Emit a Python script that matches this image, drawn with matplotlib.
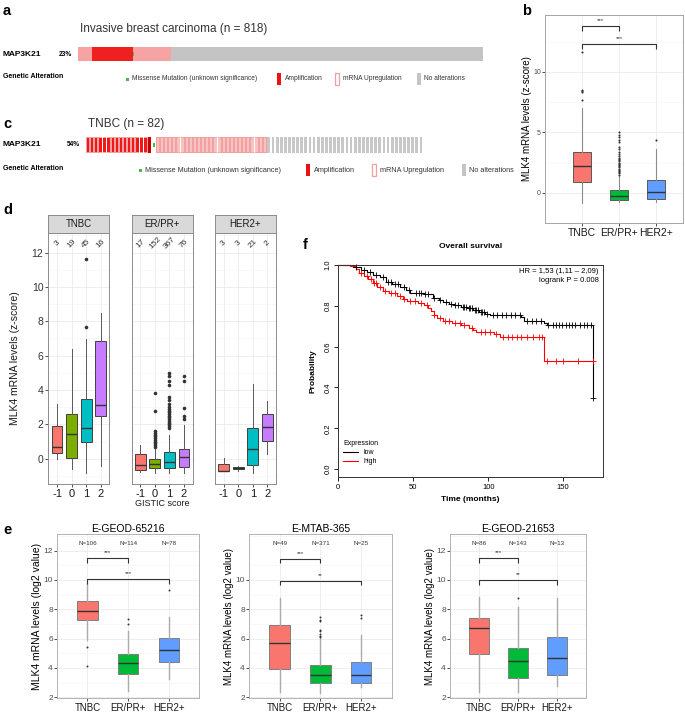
#!/usr/bin/env python3
"""
MLK4 / MAP3K21 multi-panel figure (a-f)
"""
import numpy as np
import matplotlib
matplotlib.use('Agg')
import matplotlib.pyplot as plt
from matplotlib.patches import Rectangle

plt.rcParams['font.family'] = ['Liberation Sans', 'DejaVu Sans']

# ---------------- data ----------------
# oncoprints (samples per alteration group, in display order)
A_TYPES = ['mrna', 'amp', 'mis', 'mrna', 'none']
A_COUNTS = [28, 83, 1, 76, 630]
C_TYPES = ['amp_mrna', 'amp', 'mis', 'mrna', 'none']
C_COUNTS = [15, 1, 1, 27, 38]
ALT_LABELS = ['Missense Mutation (unknown significance)', 'Amplification',
              'mRNA Upregulation', 'No alterations']

SUBTYPES = ['TNBC', 'ER/PR+', 'HER2+']
SUB_COLORS = ['#F8766D', '#00BA38', '#619CFF']

# b: TCGA z-scores by subtype
B_Q1 = [0.92, -0.57, -0.55]
B_MED = [2.18, -0.29, 0.05]
B_Q3 = [3.36, 0.24, 1.08]
B_LO = [-0.84, -0.80, -0.80]
B_HI = [6.98, 1.47, 3.62]
B_OUT = [[7.7, 8.3, 8.4, 8.5, 11.6],
         [1.5, 1.6, 1.7, 1.8, 1.9, 2.0, 2.1, 2.2, 2.3, 2.4, 2.5, 2.6, 2.7,
          2.8, 2.9, 3.0, 3.2, 3.4, 3.6, 3.8, 4.2, 4.4, 4.6, 4.8, 5.0],
         [4.35]]
B_SIG_PAIRS = [(1, 2), (1, 3)]
B_SIG_Y = [13.8, 12.3]
B_SIG_TXT = ['***', '***']

# d: z-scores by GISTIC score within subtype
D_SCORES = ['-1', '0', '1', '2']
D_COLORS = ['#F8766D', '#7CAE00', '#00BFC4', '#C77CFF']
D_N = [[3, 19, 45, 16], [17, 152, 367, 76], [3, 3, 21, 2]]
D_Q1 = [[0.31, 0.02, 0.95, 2.50], [-0.66, -0.52, -0.52, -0.47], [-0.72, -0.62, -0.37, 1.05]]
D_MED = [[0.68, 1.42, 1.77, 3.13], [-0.37, -0.30, -0.17, 0.12], [-0.70, -0.55, 0.56, 1.84]]
D_Q3 = [[1.92, 2.58, 3.46, 6.87], [0.25, 0.00, 0.37, 0.55], [-0.33, -0.47, 1.78, 2.60]]
D_LO = [[0.00, -0.62, -0.82, -0.43], [-0.76, -0.85, -0.85, -0.85], [-0.72, -0.70, -0.82, 0.30]]
D_HI = [[3.18, 6.39, 6.97, 8.47], [0.80, 0.60, 1.40, 1.95], [0.03, -0.42, 4.35, 3.35]]
D_OUT = [[[], [], [7.69, 11.61], []],
         [[], [0.7, 0.8, 0.9, 1.0, 1.1, 1.2, 1.3, 1.4, 1.5, 1.6, 2.8, 3.8],
          [1.8, 1.9, 2.0, 2.1, 2.2, 2.3, 2.4, 2.5, 2.6, 2.7, 2.8, 2.9, 3.0,
           3.2, 3.4, 3.6, 4.3, 4.5, 4.8, 5.0],
          [2.3, 2.5, 2.95, 4.5, 4.8]],
         [[], [], [], []]]

# e: external datasets (log2 values)
E_TITLES = ['E-GEOD-65216', 'E-MTAB-365', 'E-GEOD-21653']
E_N = [[106, 114, 78], [49, 371, 25], [86, 143, 13]]
E_Q1 = [[7.30, 3.60, 4.40], [3.93, 3.00, 2.95], [4.93, 3.34, 3.55]]
E_MED = [[7.90, 4.35, 5.25], [5.73, 3.52, 3.52], [6.73, 4.48, 4.68]]
E_Q3 = [[8.57, 4.95, 6.05], [6.91, 4.18, 4.41], [7.39, 5.34, 6.14]]
E_LO = [[5.90, 2.40, 3.25], [2.39, 2.27, 2.73], [2.39, 2.39, 2.77]]
E_HI = [[9.80, 6.50, 7.45], [8.75, 6.02, 6.25], [8.86, 8.18, 8.80]]
E_OUT = [[[5.4, 4.1], [7.0, 7.35], [9.3]],
         [[], [6.1, 6.2, 6.3, 6.5, 6.6, 7.2, 7.3, 7.45], [7.4, 7.6]],
         [[], [8.75], []]]
E_SIG_Y = [[11.5, 10.05], [11.45, 9.95], [11.48, 10.0]]
E_SIG_TXT = [['***', '***'], ['***', '**'], ['***', '**']]
E_YTICKS = [[2, 4, 6, 8, 10, 12], [2, 4, 6, 8, 10], [2, 4, 6, 8, 10, 12]]

# f: Kaplan-Meier overall survival
KM_LOW_T = [0, 10, 15, 19, 23, 28, 32, 36, 41, 45, 48, 57, 63, 67, 70, 74, 77,
            82, 86, 90, 94, 98, 101, 122, 124, 137, 139, 169.5]
KM_LOW_S = [1.0, 0.99, 0.975, 0.965, 0.95, 0.94, 0.916, 0.905, 0.892, 0.878,
            0.864, 0.856, 0.84, 0.83, 0.819, 0.81, 0.803, 0.795, 0.787, 0.778,
            0.77, 0.762, 0.754, 0.746, 0.725, 0.714, 0.706, 0.35]
KM_HIGH_T = [0, 8, 12, 14, 17, 20, 23, 26, 30, 34, 39, 43, 46, 53, 57, 60, 62,
             64, 66, 70, 76, 82, 87, 90, 92, 104, 108, 137, 170]
KM_HIGH_S = [1.0, 0.995, 0.98, 0.96, 0.945, 0.93, 0.91, 0.89, 0.875, 0.862,
             0.85, 0.835, 0.825, 0.815, 0.803, 0.79, 0.775, 0.755, 0.738, 0.725,
             0.715, 0.705, 0.69, 0.68, 0.67, 0.66, 0.645, 0.53, 0.53]
KM_LOW_CENS = [12, 17, 21, 25, 30, 33, 35, 38, 40, 44, 47, 52, 54, 55, 58, 60,
               64, 68, 72, 75, 78, 80, 83, 84, 85, 87, 88, 89, 91, 92, 93, 95,
               96, 97, 99, 103, 106, 109, 112, 115, 118, 121, 126, 129, 132,
               135, 140, 143, 145, 147, 149, 152, 154, 156, 158, 161, 164, 166,
               168.5, 169.5]
KM_HIGH_CENS = [15, 19, 22, 24, 25, 28, 31, 35, 38, 41, 44, 48, 51, 55, 59, 64,
                68, 71, 74, 78, 81, 84, 89, 95, 98, 101, 105, 110, 113, 116,
                119, 122, 126, 130, 134, 136, 139, 145, 150, 160, 170]

# ---------------- figure ----------------
W, H = 685, 712
fig = plt.figure(figsize=(W / 100, H / 100), dpi=100)


def px_axes(x0, y0, x1, y1):
    return fig.add_axes([x0 / W, 1 - y1 / H, (x1 - x0) / W, (y1 - y0) / H])


def draw_boxes(ax, q1, med, q3, lo, hi, out, colors, pos, width,
               edge='#595959', whisk='#8C8C8C', fs=1.6, wlw=0.8):
    stats = [dict(q1=a, med=m, q3=b, whislo=l, whishi=h, fliers=f)
             for a, m, b, l, h, f in zip(q1, med, q3, lo, hi, out)]
    bp = ax.bxp(stats, positions=pos, widths=width, patch_artist=True,
                showcaps=False,
                boxprops=dict(edgecolor=edge, linewidth=0.7),
                medianprops=dict(color='#333333', linewidth=1.0),
                whiskerprops=dict(color=whisk, linewidth=wlw),
                flierprops=dict(marker='o', markersize=fs,
                                markerfacecolor='#333333',
                                markeredgecolor='none'))
    for patch, c in zip(bp['boxes'], colors):
        patch.set_facecolor(c)
    return bp


def gg_style(ax, border='#A6A6A6'):
    ax.set_facecolor('white')
    for s in ax.spines.values():
        s.set_color(border)
        s.set_linewidth(0.7)
    ax.grid(True, which='major', color='#EBEBEB', lw=0.6)
    ax.grid(True, which='minor', axis='y', color='#F4F4F4', lw=0.4)
    ax.set_axisbelow(True)
    ax.tick_params(which='minor', length=0)
    ax.tick_params(which='major', length=2, width=0.6, color='#333333')


def brackets(ax, pairs, ys, txts, drop, fsize):
    for (i, j), y, t in zip(pairs, ys, txts):
        ax.plot([i, i, j, j], [y - drop, y, y, y - drop], color='#333333',
                lw=0.8, solid_capstyle='butt')
        ax.text((i + j) / 2, y + drop * 0.6, t, ha='center', va='bottom',
                fontsize=fsize, color='#333333')


# ---- a / c oncoprints ----
def oncoprint(ax, types, counts, fine):
    seq = np.repeat(types, counts)
    x = np.arange(len(seq))
    if fine:
        cmap = {'mrna': '#F6A3A3', 'amp': '#EE2020', 'mis': '#4DB848',
                'none': '#C4C4C4'}
        ax.bar(x, 1, width=1.0, color=[cmap[t] for t in seq], linewidth=0)
        mis = x[seq == 'mis']
        ax.bar(mis, 0.3, bottom=0.35, width=1.6, color='#4DB848', linewidth=0)
    else:
        for t in np.unique(seq):
            xs = x[seq == t]
            if t in ('amp_mrna', 'mrna'):
                ax.bar(xs, 1, width=0.96, color='#F2A0A0', linewidth=0)
                inner = '#F01818' if t == 'amp_mrna' else '#F6C2C2'
                ax.bar(xs, 0.84, bottom=0.08, width=0.55, color=inner, linewidth=0)
            elif t == 'amp':
                ax.bar(xs, 1, width=0.7, color='#C80000', linewidth=0)
            elif t == 'mis':
                ax.bar(xs, 0.3, bottom=0.35, width=0.55, color='#4DB848', linewidth=0)
            else:
                ax.bar(xs, 1, width=0.68, color='#C8C8C8', linewidth=0)
    ax.set_xlim(-0.5, len(seq) - 0.5)
    ax.set_ylim(0, 1)
    ax.axis('off')


ax_a = px_axes(78, 47, 483, 61)
oncoprint(ax_a, A_TYPES, A_COUNTS, fine=True)
ax_c = px_axes(86, 137, 423, 153)
oncoprint(ax_c, C_TYPES, C_COUNTS, fine=False)

# ---- b ----
ax_b = px_axes(545, 15, 683, 223)
gg_style(ax_b)
draw_boxes(ax_b, B_Q1, B_MED, B_Q3, B_LO, B_HI, B_OUT, SUB_COLORS,
           [1, 2, 3], 0.5, fs=1.5)
brackets(ax_b, B_SIG_PAIRS, B_SIG_Y, B_SIG_TXT, 0.45, 4.5)
ax_b.set_xlim(0.0, 3.73)
ax_b.set_ylim(-1.65, 14.7)
ax_b.set_yticks([0, 5, 10])
ax_b.set_yticks([-2.5, 2.5, 7.5, 12.5], minor=True)
ax_b.set_xticks([1, 2, 3], SUBTYPES)
ax_b.tick_params(axis='x', labelsize=7.5, labelcolor='#1A1A1A', pad=1.5)
ax_b.tick_params(axis='y', labelsize=5, labelcolor='#4D4D4D', pad=1)
ax_b.set_ylabel('MLK4 mRNA levels (z-score)', fontsize=7, labelpad=1)

# ---- d ----
d_left = [48.3, 131.7, 215]
for k, sub in enumerate(SUBTYPES):
    x0 = d_left[k]
    ax = px_axes(x0, 232.7, x0 + 61, 484.3)
    gg_style(ax, border='#8C8C8C')
    pos = [1, 2, 3, 4]
    draw_boxes(ax, D_Q1[k], D_MED[k], D_Q3[k], D_LO[k], D_HI[k], D_OUT[k],
               D_COLORS, pos, 0.75, edge='#404040', whisk='#595959',
               fs=2.6, wlw=0.7)
    ax.set_xlim(0.4, 4.6)
    ax.set_ylim(-1.49, 13.16)
    ax.set_yticks([0, 2, 4, 6, 8, 10, 12])
    ax.set_yticks([-1, 1, 3, 5, 7, 9, 11, 13], minor=True)
    ax.set_xticks(pos, D_SCORES)
    ax.tick_params(axis='x', labelsize=8, labelcolor='#1A1A1A', pad=1.5)
    if k == 0:
        ax.tick_params(axis='y', labelsize=7.5, labelcolor='#333333', pad=1.5)
    else:
        ax.tick_params(axis='y', left=False, labelleft=False)
    for p, n in zip(pos, D_N[k]):
        ax.text(p, 12.55, str(n), rotation=45, ha='center', va='center',
                fontsize=6, color='#333333')
    sax = px_axes(x0, 215, x0 + 61, 232.7)
    sax.set_xticks([])
    sax.set_yticks([])
    sax.set_facecolor('#D9D9D9')
    for s in sax.spines.values():
        s.set_color('#8C8C8C')
        s.set_linewidth(0.7)
    sax.text(0.5, 0.5, sub, ha='center', va='center', fontsize=7,
             color='#1A1A1A', transform=sax.transAxes)

# ---- f ----
ax_f = px_axes(338.3, 265, 602.7, 476.7)
ax_f.step(KM_LOW_T, KM_LOW_S, where='post', color='black', lw=0.8,
          label='low', clip_on=False)
ax_f.step(KM_HIGH_T, KM_HIGH_S, where='post', color='#FF0000', lw=0.8,
          label='high', clip_on=False)
for times, surv, cens, col in [(KM_LOW_T, KM_LOW_S, KM_LOW_CENS, 'black'),
                               (KM_HIGH_T, KM_HIGH_S, KM_HIGH_CENS, '#FF0000')]:
    idx = np.searchsorted(times, cens, side='right') - 1
    ax_f.plot(cens, np.asarray(surv)[idx], '+', color=col, ms=4.5, mew=0.6,
              clip_on=False)
ax_f.set_xlim(0, 176.3)
ax_f.set_ylim(-0.037, 0.989)
ax_f.set_xticks([0, 50, 100, 150])
ax_f.set_yticks([0.0, 0.2, 0.4, 0.6, 0.8, 1.0])
ax_f.set_yticklabels(['0.0', '0.2', '0.4', '0.6', '0.8', '1.0'])
ax_f.tick_params(labelsize=5.5, length=3, width=0.6, pad=2)
for lbl in ax_f.get_yticklabels():
    lbl.set_rotation(90)
    lbl.set_va('center')
for s in ax_f.spines.values():
    s.set_linewidth(0.7)
    s.set_color('#333333')
ax_f.set_title('Overall survival', fontsize=6, fontweight='bold', pad=12)
ax_f.set_xlabel('Time (months)', fontsize=6, fontweight='bold', labelpad=4)
ax_f.set_ylabel('Probability', fontsize=6, fontweight='bold', labelpad=6)
ax_f.text(0.985, 0.985, 'HR = 1,53 (1,11 \u2013 2,09)\nlogrank P = 0.008',
          transform=ax_f.transAxes, ha='right', va='top', fontsize=5.5,
          linespacing=1.35)
leg = ax_f.legend(title='Expression', loc='lower left',
                  bbox_to_anchor=(0.0, 0.03), frameon=False, fontsize=5,
                  title_fontsize=5, handlelength=2.2, alignment='left',
                  labelspacing=0.3, borderaxespad=0.3)

# ---- e ----
e_boxes = [(57, 199.3), (249, 391.7), (450, 586)]
for k, (x0, x1) in enumerate(e_boxes):
    ax = px_axes(x0, 534, x1, 698.3)
    gg_style(ax, border='#B3B3B3')
    draw_boxes(ax, E_Q1[k], E_MED[k], E_Q3[k], E_LO[k], E_HI[k], E_OUT[k],
               SUB_COLORS, [1, 2, 3], 0.5, edge='#7F7F7F', whisk='#ABABAB',
               fs=1.4, wlw=1.0)
    brackets(ax, B_SIG_PAIRS, E_SIG_Y[k], E_SIG_TXT[k], 0.32, 4.5)
    for p, n in zip([1, 2, 3], E_N[k]):
        ax.text(p, 12.5, 'N=%d' % n, ha='center', va='center', fontsize=4.5,
                color='#333333')
    ax.set_xlim(0.25, 3.75)
    ax.set_ylim(1.93, 13.13)
    ax.set_yticks(E_YTICKS[k])
    ax.set_yticks([3, 5, 7, 9, 11, 13], minor=True)
    ax.set_xticks([1, 2, 3], SUBTYPES)
    ax.tick_params(axis='x', labelsize=7, labelcolor='#1A1A1A', pad=1.5)
    ax.tick_params(axis='y', labelsize=6, labelcolor='#4D4D4D', pad=1)
    ax.set_ylabel('MLK4 mRNA levels (log2 value)',
                  fontsize=7.5 if k == 0 else 7, labelpad=1)
    ax.set_title(E_TITLES[k], fontsize=7.5, pad=1.5)

# ---- overlay text / legends (pixel coordinates) ----
ov = fig.add_axes([0, 0, 1, 1])
ov.set_xlim(0, W)
ov.set_ylim(H, 0)
ov.axis('off')
ov.patch.set_alpha(0)

for lab, x, y in [('a', 3, 11), ('b', 522, 11), ('c', 3, 124), ('d', 3, 210),
                  ('f', 303, 245), ('e', 3, 530)]:
    ov.text(x, y, lab, fontsize=10.5, fontweight='bold', va='center', ha='left')

ov.text(80, 29, 'Invasive breast carcinoma (n = 818)', fontsize=8.5,
        color='#333333', va='center')
ov.text(88, 124, 'TNBC (n = 82)', fontsize=8.5, color='#333333', va='center')

for y in [54, 145]:
    ov.text(3, y, 'MAP3K21', fontsize=6, fontweight='bold', va='center')
ov.text(72, 54, '23%', fontsize=4.8, fontweight='bold', va='center', ha='right')
ov.text(80, 145, '54%', fontsize=4.8, fontweight='bold', va='center', ha='right')


def alt_legend(y, xs, fs):
    gx, rx, px, nx = xs
    ov.text(3, y - 2, 'Genetic Alteration', fontsize=5, fontweight='bold',
            va='center')
    ov.add_patch(Rectangle((gx, y - 1.5), 3, 3, color='#4DB848', lw=0))
    ov.add_patch(Rectangle((rx, y - 6), 4, 12, color='#EE1111', lw=0))
    ov.add_patch(Rectangle((px, y - 6), 4, 12, facecolor='white',
                           edgecolor='#F2A0A0', lw=0.9))
    ov.add_patch(Rectangle((nx, y - 6), 4, 12, color='#C4C4C4', lw=0))
    for x, t in zip([gx + 6, rx + 7, px + 8, nx + 7], ALT_LABELS):
        ov.text(x, y, t, fontsize=fs, va='center', color='#333333')


alt_legend(79, (126.5, 277.5, 335, 417), 4.8)
alt_legend(170, (139, 306.5, 372, 462), 5.2)

ov.text(15, 358.5, 'MLK4 mRNA levels (z-score)', rotation=90, fontsize=7.5,
        ha='center', va='center', color='#1A1A1A')
ov.text(162, 503, 'GISTIC score', fontsize=6.5, ha='center', va='center',
        color='#1A1A1A')

fig.savefig('out.png', dpi=100)
